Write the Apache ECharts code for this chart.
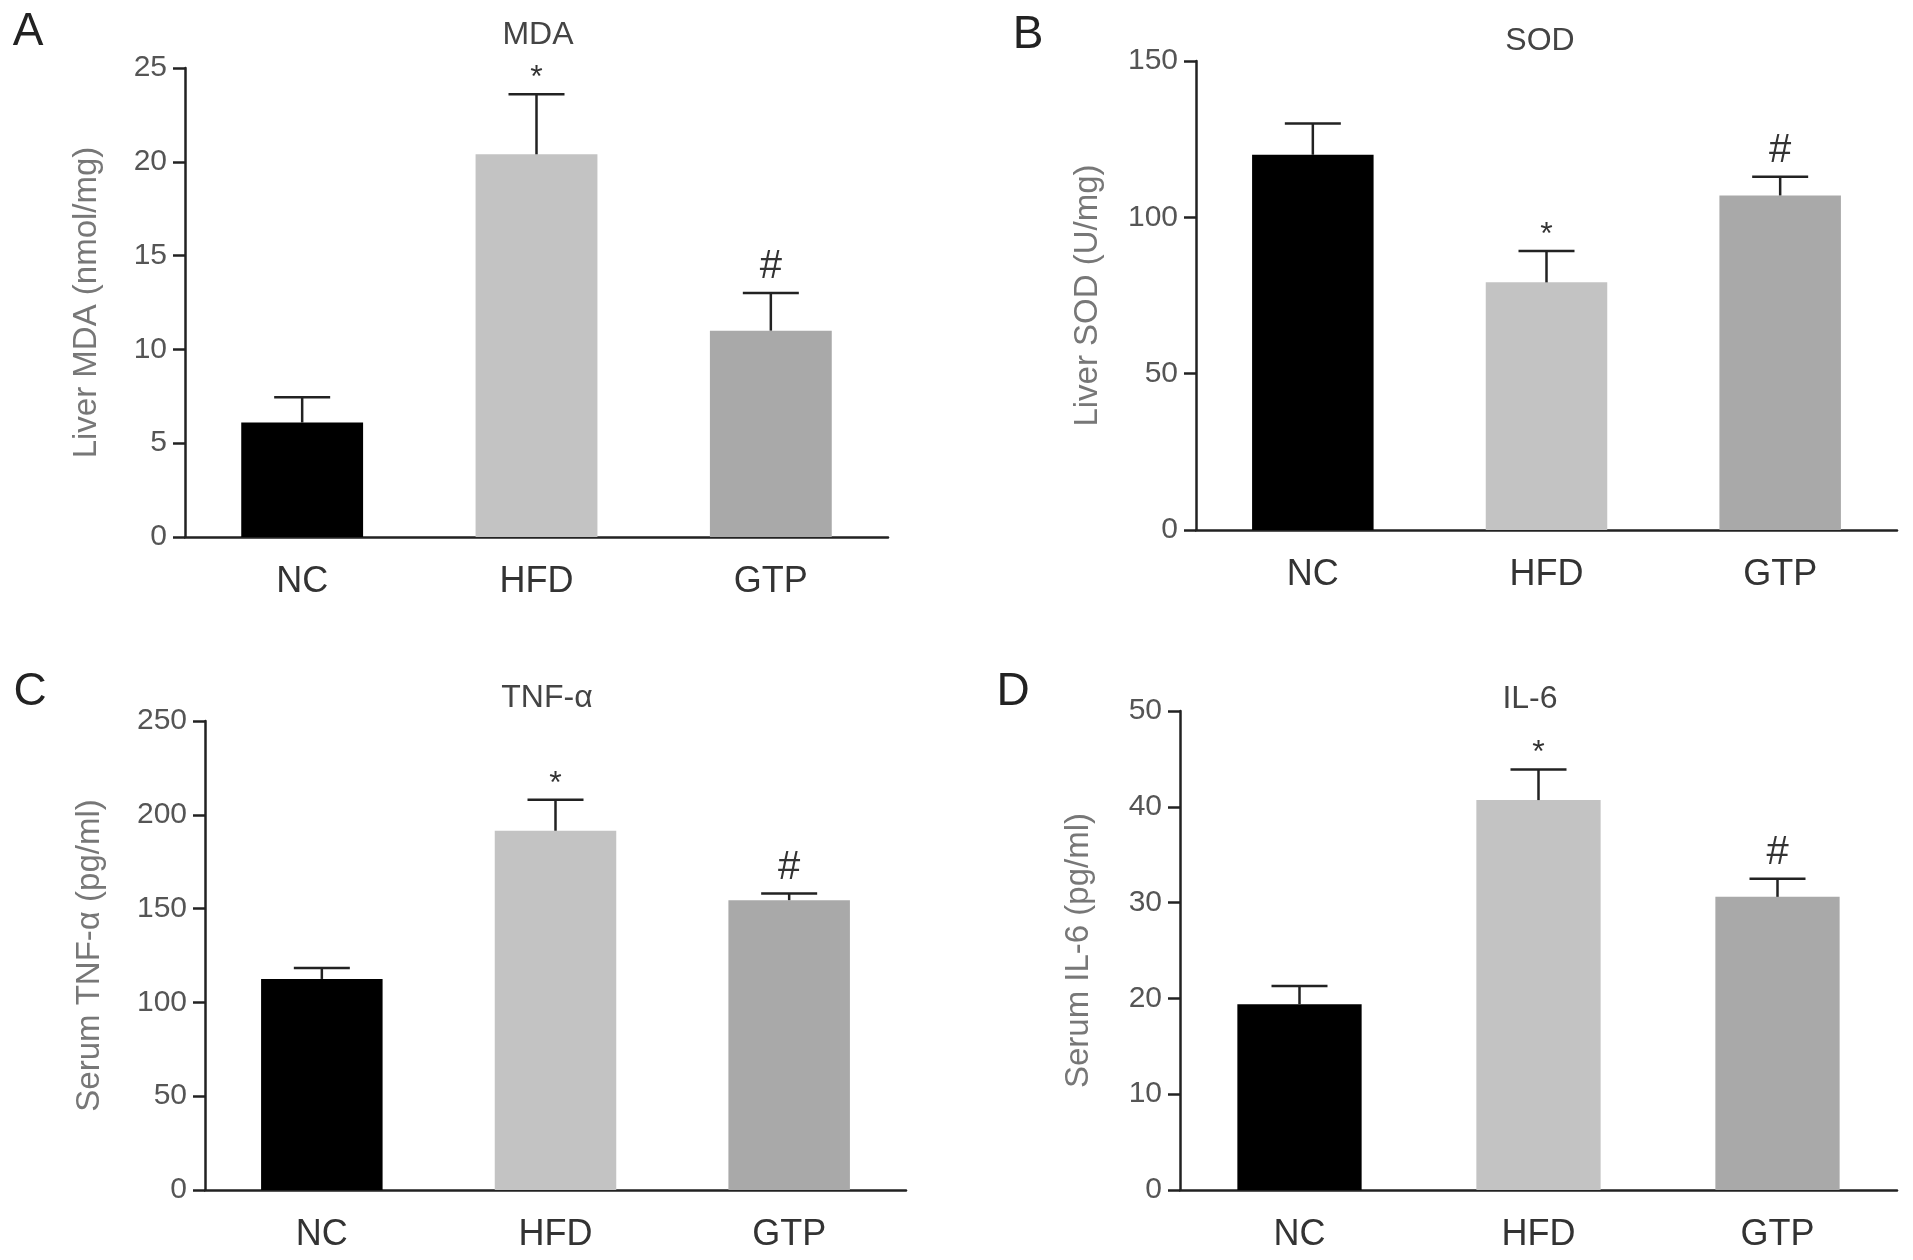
<!DOCTYPE html>
<html>
<head>
<meta charset="utf-8">
<title>MDA / SOD / TNF-α / IL-6</title>
<script src="https://cdn.jsdelivr.net/npm/echarts@6/dist/echarts.min.js"></script>
<style>
  html, body { margin: 0; padding: 0; background: #fff; }
  #main { width: 1913px; height: 1260px; }
</style>
</head>
<body>
<div id="main"></div>
<script>
// groups on the x axis
var groups = ['NC', 'HFD', 'GTP'];
var barColors = ['#000000', '#c3c3c3', '#a9a9a9'];

// A - liver MDA (nmol/mg)
var mdaMean = [6.1, 20.4, 11.0];
var mdaSem = [1.35, 3.2, 2.0];
var mdaMarks = ['', '*', '#'];

// B - liver SOD (U/mg)
var sodMean = [120, 79.2, 107];
var sodSem = [10, 10, 6];
var sodMarks = ['', '*', '#'];

// C - serum TNF-α (pg/ml)
var tnfMean = [112.5, 191.5, 154.5];
var tnfSem = [5.8, 16.5, 3.5];
var tnfMarks = ['', '*', '#'];

// D - serum IL-6 (pg/ml)
var il6Mean = [19.4, 40.7, 30.6];
var il6Sem = [1.9, 3.2, 1.9];
var il6Marks = ['', '*', '#'];

var FONT = '"Liberation Sans", Arial, Helvetica, sans-serif';
var INK = '#222';

var myChart = echarts.init(document.getElementById('main'));

// 每个面板的网格位置
var grids = [
    { left: 185, top: 68, right: 1025, bottom: 723 },
    { left: 1196, top: 61, right: 16, bottom: 730 },
    { left: 205, top: 721, right: 1007, bottom: 70 },
    { left: 1180, top: 711, right: 16, bottom: 70 }
];

var yConf = [
    { name: 'Liver MDA (nmol/mg)', max: 25, interval: 5, gap: 82 },
    { name: 'Liver SOD (U/mg)', max: 150, interval: 50, gap: 92 },
    { name: 'Serum TNF-α (pg/ml)', max: 250, interval: 50, gap: 99 },
    { name: 'Serum IL-6 (pg/ml)', max: 50, interval: 10, gap: 85 }
];

var xAxes = [], yAxes = [];
for (var i = 0; i < 4; i++) {
    xAxes.push({
        type: 'category',
        gridIndex: i,
        data: groups,
        axisLine: { lineStyle: { color: INK, width: 2.5 } },
        axisTick: { alignWithLabel: true, length: 12, lineStyle: { color: INK, width: 2.5 } },
        axisLabel: { fontSize: 36, color: '#333', fontFamily: FONT, margin: 27 },
        splitLine: { show: false }
    });
    yAxes.push({
        type: 'value',
        gridIndex: i,
        min: 0,
        max: yConf[i].max,
        interval: yConf[i].interval,
        name: yConf[i].name,
        nameLocation: 'middle',
        nameGap: yConf[i].gap,
        nameTextStyle: { fontSize: 33, color: '#777', fontFamily: FONT },
        axisLine: { show: true, lineStyle: { color: INK, width: 2.5 } },
        axisTick: { show: true, length: 12, lineStyle: { color: INK, width: 2.5 } },
        axisLabel: { fontSize: 30, color: '#555', fontFamily: FONT, margin: 18 },
        splitLine: { show: false }
    });
}

var markOffset = { '*': 16, '#': 26 };
var markSize = { '*': 32, '#': 40 };

function barSeries(idx, means) {
    return {
        type: 'bar',
        xAxisIndex: idx,
        yAxisIndex: idx,
        barWidth: '52%',
        data: means.map(function (v, k) {
            return { value: v, itemStyle: { color: barColors[k] } };
        })
    };
}

// 误差线 + 显著性标记
function errSeries(idx, means, sems, marks) {
    return {
        type: 'custom',
        xAxisIndex: idx,
        yAxisIndex: idx,
        z: 5,
        data: means.map(function (m, k) { return [k, m, m + sems[k]]; }),
        renderItem: function (params, api) {
            var base = api.coord([api.value(0), api.value(1)]);
            var top = api.coord([api.value(0), api.value(2)]);
            var half = 28;
            var ls = { stroke: INK, lineWidth: 2.5 };
            var children = [
                { type: 'line', shape: { x1: base[0], y1: base[1], x2: top[0], y2: top[1] }, style: ls },
                { type: 'line', shape: { x1: top[0] - half, y1: top[1], x2: top[0] + half, y2: top[1] }, style: ls }
            ];
            var mark = marks[params.dataIndex];
            if (mark) {
                children.push({
                    type: 'text',
                    x: top[0],
                    y: top[1] - markOffset[mark],
                    style: {
                        text: mark,
                        fontSize: markSize[mark],
                        fontFamily: FONT,
                        fill: '#333',
                        align: 'center',
                        verticalAlign: 'middle'
                    }
                });
            }
            return { type: 'group', children: children };
        }
    };
}

function label(text, x, y, size, color) {
    return {
        type: 'text',
        x: x,
        y: y,
        style: {
            text: text,
            fontSize: size,
            fontFamily: FONT,
            fill: color,
            align: 'center',
            verticalAlign: 'middle'
        }
    };
}

var option = {
    backgroundColor: '#fff',
    animation: false,
    grid: grids,
    xAxis: xAxes,
    yAxis: yAxes,
    graphic: [
        label('A', 28, 32, 46, '#222'),
        label('B', 1028, 35, 46, '#222'),
        label('C', 30, 692, 46, '#222'),
        label('D', 1013, 692, 46, '#222'),
        label('MDA', 538, 35, 32, '#444'),
        label('SOD', 1540, 41, 32, '#444'),
        label('TNF-α', 547, 698, 32, '#444'),
        label('IL-6', 1530, 699, 32, '#444')
    ],
    series: [
        barSeries(0, mdaMean), errSeries(0, mdaMean, mdaSem, mdaMarks),
        barSeries(1, sodMean), errSeries(1, sodMean, sodSem, sodMarks),
        barSeries(2, tnfMean), errSeries(2, tnfMean, tnfSem, tnfMarks),
        barSeries(3, il6Mean), errSeries(3, il6Mean, il6Sem, il6Marks)
    ]
};
myChart.setOption(option);
</script>
</body>
</html>
